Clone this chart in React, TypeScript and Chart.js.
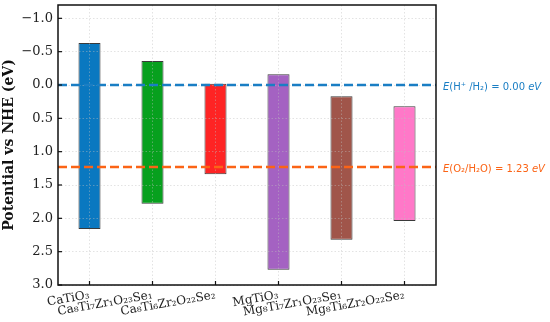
import React, { useEffect, useRef } from "react";
import { Chart, registerables } from "chart.js";

Chart.register(...registerables);

const categories = [
  "CaTiO₃",
  "Ca₈Ti₇Zr₁O₂₃Se₁",
  "Ca₈Ti₆Zr₂O₂₂Se₂",
  "MgTiO₃",
  "Mg₈Ti₇Zr₁O₂₃Se₁",
  "Mg₈Ti₆Zr₂O₂₂Se₂",
];
const cbmValues = [-0.63, -0.36, -0.02, -0.16, 0.17, 0.32];
const vbmValues = [2.16, 1.78, 1.34, 2.77, 2.32, 2.04];
const barColors = ["#0a78c0", "#07a01e", "#fe2424", "#a462c2", "#a0554a", "#ff78c8"];
const yTicks = [-1.0, -0.5, 0.0, 0.5, 1.0, 1.5, 2.0, 2.5, 3.0];
const refLevels = [0.0, 1.23];
const refColors = ["#1a7ec4", "#fb6416"];
const refTexts = [
  [
    { text: "E", italic: true },
    { text: "(H⁺ /H₂) = 0.00 ", italic: false },
    { text: "eV", italic: true },
  ],
  [
    { text: "E", italic: true },
    { text: "(O₂/H₂O) = 1.23 ", italic: false },
    { text: "eV", italic: true },
  ],
];
const yTitle = "Potential vs NHE (eV)";

const overlayPlugin = {
  id: "overlay",
  afterDraw(chart: any) {
    const { ctx, chartArea: a, scales } = chart;
    const x = scales.x;
    const y = scales.y;
    ctx.save();
    refLevels.forEach((v, i) => {
      const py = y.getPixelForValue(v);
      ctx.strokeStyle = refColors[i];
      ctx.lineWidth = 2.5;
      ctx.setLineDash([9, 4]);
      ctx.beginPath();
      ctx.moveTo(a.left, py);
      ctx.lineTo(a.right, py);
      ctx.stroke();
      ctx.setLineDash([]);
      let px = a.right + 7;
      ctx.fillStyle = refColors[i];
      ctx.textBaseline = "middle";
      ctx.textAlign = "left";
      refTexts[i].forEach((seg) => {
        ctx.font = `${seg.italic ? "italic " : ""}10px "DejaVu Sans"`;
        ctx.fillText(seg.text, px, py + 2);
        px += ctx.measureText(seg.text).width;
      });
    });
    ctx.strokeStyle = "#111";
    ctx.lineWidth = 1.5;
    ctx.strokeRect(a.left, a.top, a.right - a.left, a.bottom - a.top);
    ctx.lineWidth = 1.2;
    yTicks.forEach((v) => {
      const py = y.getPixelForValue(v);
      ctx.beginPath();
      ctx.moveTo(a.left, py);
      ctx.lineTo(a.left + 4, py);
      ctx.stroke();
    });
    categories.forEach((_, i) => {
      const px = x.getPixelForValue(i);
      ctx.beginPath();
      ctx.moveTo(px, a.bottom);
      ctx.lineTo(px, a.bottom - 4);
      ctx.stroke();
    });
    ctx.restore();
  },
};

export default function App() {
  const ref = useRef<HTMLCanvasElement | null>(null);
  useEffect(() => {
    if (!ref.current) return;
    const chart = new Chart(ref.current, {
      type: "bar",
      data: {
        labels: categories,
        datasets: [
          {
            data: categories.map((_, i) => [cbmValues[i], vbmValues[i]]) as any,
            backgroundColor: barColors,
            borderColor: "#3a3a3a",
            borderWidth: 1,
            borderSkipped: false,
            barPercentage: 0.35,
            categoryPercentage: 1,
          },
        ],
      },
      options: {
        animation: false,
        responsive: false,
        maintainAspectRatio: false,
        devicePixelRatio: 1,
        layout: { padding: { top: 5, right: 114, left: 0, bottom: 0 } },
        plugins: { legend: { display: false }, tooltip: { enabled: false } },
        scales: {
          x: {
            type: "category",
            offset: true,
            grid: {
              offset: false,
              drawTicks: false,
              color: "rgba(190,190,190,0.55)",
              lineWidth: 0.8,
              z: 1,
            },
            border: { display: false, dash: [1.5, 2] },
            ticks: {
              autoSkip: false,
              minRotation: 10,
              maxRotation: 10,
              padding: 3,
              color: "#222",
              font: { family: "'DejaVu Serif'", size: 12 },
            },
            afterFit: (s: any) => {
              s.height = 37;
              s.paddingLeft = 0;
              s.paddingRight = 0;
            },
          },
          y: {
            type: "linear",
            reverse: true,
            min: -1.2,
            max: 3.0,
            afterBuildTicks: (s: any) => {
              s.ticks = yTicks.map((v) => ({ value: v }));
            },
            grid: {
              drawTicks: false,
              color: "rgba(190,190,190,0.55)",
              lineWidth: 0.8,
              z: 1,
            },
            border: { display: false, dash: [1.5, 2] },
            ticks: {
              padding: 5,
              color: "#222",
              font: { family: "'DejaVu Serif'", size: 13 },
              callback: (v: any) => Number(v).toFixed(1).replace("-", "−"),
            },
            title: {
              display: true,
              text: yTitle,
              color: "#111",
              padding: { top: 1, bottom: 0 },
              font: { family: "'DejaVu Serif'", size: 14, weight: "bold" },
            },
            afterFit: (s: any) => {
              s.width = 58;
              s.paddingTop = 0;
              s.paddingBottom = 0;
            },
          },
        },
      },
      plugins: [overlayPlugin],
    });
    return () => chart.destroy();
  }, []);
  return (
    <div style={{ position: "absolute", left: 0, top: 0, width: 550, height: 322, background: "#fff" }}>
      <canvas ref={ref} width={550} height={322} style={{ width: 550, height: 322, display: "block" }} />
    </div>
  );
}
